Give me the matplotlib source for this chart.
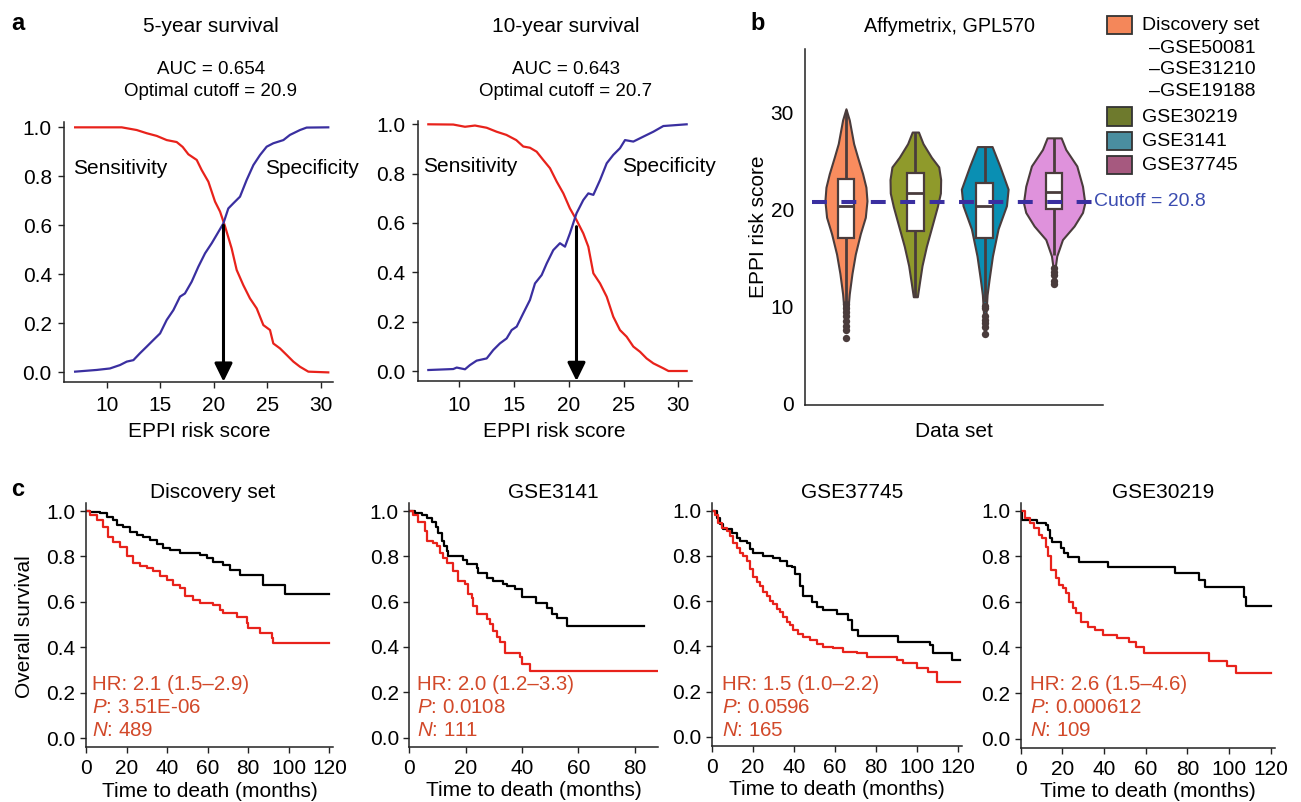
import matplotlib
matplotlib.use("Agg")
import matplotlib.pyplot as plt
from matplotlib.patches import Rectangle

plt.rcParams['font.family'] = ['Liberation Sans', 'DejaVu Sans']
plt.rcParams['mathtext.fontset'] = 'custom'
plt.rcParams['mathtext.rm'] = 'Liberation Sans'
plt.rcParams['mathtext.it'] = 'Liberation Sans:italic'

# ----------------------------------------------- DATA -----------------------------------------------------------------
# panel a: sensitivity / specificity vs EPPI risk score
a1_sens_x = [7.05, 11.4, 12.8, 13.73, 14.67, 15.6, 16.53, 17.09, 17.62, 18.4, 18.86, 19.49, 20.11, 20.58, 21.05,
             21.66, 22.13, 22.75, 23.37, 24.0, 24.62, 25.24, 25.55, 26.17, 26.8, 27.42, 28.04, 28.82, 30.68]
a1_sens_y = [1.0, 1.0, 0.989, 0.976, 0.965, 0.948, 0.94, 0.92, 0.89, 0.867, 0.826, 0.778, 0.697, 0.656, 0.595,
             0.506, 0.418, 0.356, 0.302, 0.261, 0.193, 0.173, 0.118, 0.098, 0.071, 0.044, 0.023, 0.003, 0.0]
a1_spec_x = [7.05, 9.07, 10.3, 11.24, 11.87, 12.49, 13.1, 13.73, 14.35, 14.98, 15.6, 16.22, 16.84, 17.3, 17.93,
             18.55, 19.18, 19.8, 20.26, 20.89, 21.35, 21.82, 22.44, 23.06, 23.69, 24.31, 24.93, 25.55, 26.49,
             27.1, 28.04, 28.66, 30.68]
a1_spec_y = [0.003, 0.01, 0.016, 0.03, 0.044, 0.05, 0.078, 0.105, 0.132, 0.159, 0.214, 0.254, 0.309, 0.322, 0.37,
             0.431, 0.486, 0.527, 0.561, 0.608, 0.669, 0.69, 0.717, 0.785, 0.846, 0.887, 0.921, 0.935, 0.948,
             0.969, 0.989, 0.999, 1.0]
a2_sens_x = [7.17, 9.45, 10.52, 11.43, 12.5, 13.4, 14.3, 15.2, 15.84, 16.45, 17.06, 17.67, 18.28, 18.89, 19.5,
             20.1, 20.7, 21.32, 21.78, 22.24, 22.85, 23.46, 24.06, 24.67, 25.28, 25.89, 26.5, 27.1, 27.72, 28.63,
             29.1, 30.76]
a2_sens_y = [1.0, 0.999, 0.99, 0.995, 0.986, 0.97, 0.957, 0.936, 0.91, 0.905, 0.889, 0.855, 0.822, 0.768, 0.72,
             0.659, 0.612, 0.558, 0.504, 0.396, 0.355, 0.301, 0.22, 0.166, 0.139, 0.099, 0.078, 0.051, 0.031,
             0.011, 0.0, 0.0]
a2_spec_x = [7.17, 9.45, 9.76, 10.52, 10.97, 11.58, 12.5, 13.1, 13.71, 14.32, 14.78, 15.24, 15.84, 16.45, 16.91,
             17.52, 17.98, 18.58, 19.19, 19.65, 20.1, 20.7, 21.32, 21.78, 22.24, 22.85, 23.46, 24.06, 24.67,
             25.13, 25.89, 26.8, 27.72, 28.63, 30.76]
a2_spec_y = [0.004, 0.008, 0.014, 0.007, 0.024, 0.042, 0.051, 0.085, 0.112, 0.132, 0.166, 0.18, 0.234, 0.288,
             0.355, 0.389, 0.436, 0.49, 0.518, 0.504, 0.558, 0.639, 0.693, 0.72, 0.714, 0.774, 0.842, 0.876,
             0.903, 0.936, 0.93, 0.95, 0.97, 0.993, 1.0]
a_titles = ['5-year survival', '10-year survival']
a_auc = [0.654, 0.643]
a_cutoff = [20.9, 20.7]
a_arrow_top = [0.60, 0.585]

# panel b: violin profiles (score level, half width) and box statistics
vio_names = ['Discovery set', 'GSE30219', 'GSE3141', 'GSE37745']
vio_colors = ['#f98c5e', '#8f9a2b', '#0a8fb3', '#df92dc']
vio_y = [
    [30.4, 29.25, 26.8, 25.4, 23.7, 22.3, 20.9, 19.2, 17.5, 15.4, 13.4, 11.3, 9.3, 7.5],
    [28.0, 26.8, 25.4, 24.4, 23.1, 21.7, 20.3, 18.3, 16.2, 14.2, 12.4, 11.0],
    [26.5, 24.5, 22.1, 20.4, 18.0, 15.2, 12.8, 11.2, 9.4, 7.2],
    [27.4, 26.2, 24.5, 22.4, 20.7, 19.7, 18.3, 16.9, 15.2, 14.2, 12.5],
]
vio_hw = [
    [0.0, 0.048, 0.111, 0.168, 0.24, 0.288, 0.303, 0.279, 0.207, 0.135, 0.087, 0.048, 0.024, 0.0],
    [0.045, 0.111, 0.231, 0.337, 0.365, 0.361, 0.317, 0.24, 0.159, 0.096, 0.058, 0.029],
    [0.106, 0.216, 0.337, 0.313, 0.192, 0.111, 0.063, 0.034, 0.019, 0.005],
    [0.101, 0.168, 0.327, 0.409, 0.442, 0.409, 0.288, 0.12, 0.038, 0.019, 0.01],
]
box_q1 = [17.1, 17.8, 17.1, 20.1]
box_med = [20.4, 21.7, 20.4, 21.8]
box_q3 = [23.2, 23.8, 22.7, 23.8]
whisk_lo = [10.6, 11.0, 10.5, 15.3]
whisk_hi = [30.3, 28.0, 26.5, 27.4]
outliers = [
    [10.2, 9.8, 9.4, 9.0, 8.5, 8.0, 7.6, 6.7],
    [],
    [10.0, 9.8, 9.0, 8.6, 8.3, 7.9, 7.2],
    [14.0, 13.6, 13.2, 12.6, 12.3],
]
cutoff_b = 20.8
legend_colors = ['#f4875a', '#6e7a2d', '#4a8ea0', '#a6597f']
discovery_members = ['GSE50081', 'GSE31210', 'GSE19188']

# panel c: Kaplan-Meier curves (low risk = black, high risk = red)
km_titles = ['Discovery set', 'GSE3141', 'GSE37745', 'GSE30219']
km_low_t = [
    [0, 2, 6.9, 10.2, 13.5, 15.1, 18.4, 21.7, 25, 28.3, 31.6, 34.9, 38.1, 41.4, 46.4, 49.6, 56.2, 59.5, 62.8,
     67.7, 71, 75.9, 87.5, 98.1, 120],
    [0, 2, 4.4, 6.1, 7.9, 9.5, 10.3, 11.5, 12.3, 13.2, 13.8, 19.1, 20.3, 23.9, 24.5, 27.4, 29.8, 33.3, 34.5,
     37.5, 39.8, 45.1, 48.7, 50.5, 52.2, 55.8, 83.3],
    [0, 1.1, 2.4, 4.1, 5.7, 9.7, 12.2, 13.8, 17, 18.6, 20.3, 25.1, 30, 33.2, 36.5, 38.9, 40.5, 43, 44.6, 48.6,
     51.1, 54.3, 60.8, 66.5, 68.1, 71.4, 90.8, 106.2, 107.8, 116.8, 120.8],
    [0, 0.5, 7.8, 11.9, 13, 14, 15.2, 19.2, 20.9, 22.5, 28.2, 42.1, 73.9, 85.3, 88.5, 107.3, 108.1, 120.3],
]
km_low_s = [
    [1.0, 0.997, 0.99, 0.975, 0.96, 0.938, 0.931, 0.909, 0.894, 0.887, 0.872, 0.855, 0.836, 0.828, 0.817, 0.814,
     0.806, 0.792, 0.777, 0.762, 0.74, 0.718, 0.675, 0.635, 0.635],
    [1.0, 0.99, 0.982, 0.968, 0.953, 0.931, 0.902, 0.866, 0.844, 0.822, 0.803, 0.785, 0.764, 0.749, 0.727, 0.705,
     0.69, 0.676, 0.669, 0.654, 0.62, 0.596, 0.574, 0.545, 0.53, 0.493, 0.493],
    [1.0, 0.997, 0.968, 0.939, 0.917, 0.902, 0.88, 0.866, 0.858, 0.829, 0.815, 0.8, 0.793, 0.778, 0.756, 0.749,
     0.72, 0.669, 0.625, 0.596, 0.574, 0.56, 0.545, 0.515, 0.472, 0.445, 0.42, 0.406, 0.369, 0.34, 0.34],
    [1.0, 0.96, 0.946, 0.938, 0.916, 0.88, 0.865, 0.836, 0.814, 0.796, 0.777, 0.755, 0.726, 0.696, 0.664, 0.623,
     0.582, 0.582],
]
km_high_t = [
    [0, 2, 5.3, 8.5, 11, 13.5, 16.8, 20.1, 23.3, 26.6, 29.9, 33.2, 36.5, 39.8, 43.1, 46.4, 48.8, 52.9, 56.2,
     62.8, 66.1, 67.7, 74.3, 79.2, 80, 85.8, 91.6, 92.4, 120],
    [0, 1.4, 3.2, 5.6, 6.1, 8.5, 9.7, 10.9, 12.1, 13.2, 15.6, 17.4, 19.7, 20.9, 22.1, 22.7, 23.9, 27.4, 28.6,
     29.8, 31, 32.1, 33.9, 39.2, 39.8, 42.8, 88.3],
    [0, 1.6, 3.2, 4.9, 7.3, 8.9, 10.5, 12.2, 13.8, 15.4, 17, 18.6, 20.3, 21.9, 23.5, 25.1, 26.8, 28.4, 30, 31.6,
     33.2, 34.9, 36.5, 38.1, 39.7, 42.2, 44.6, 47.8, 51.1, 54.3, 59.2, 64.1, 70.5, 75.4, 90, 93.2, 99.7, 105.4,
     109.5, 120.8],
    [0, 1.3, 2.1, 4.6, 6.2, 8.6, 10.3, 11.9, 13, 14.3, 16.8, 18.4, 20.1, 21.7, 23.3, 24.9, 26.6, 29, 32.3, 35.5,
     39.6, 46.1, 51.8, 55.1, 59.2, 90.2, 99.1, 103.2, 120.3],
]
km_high_s = [
    [1.0, 0.982, 0.96, 0.931, 0.887, 0.865, 0.843, 0.8, 0.77, 0.756, 0.748, 0.734, 0.712, 0.698, 0.675, 0.661,
     0.624, 0.609, 0.594, 0.587, 0.565, 0.55, 0.535, 0.507, 0.484, 0.462, 0.44, 0.418, 0.418],
    [1.0, 0.982, 0.953, 0.91, 0.866, 0.858, 0.844, 0.815, 0.793, 0.771, 0.734, 0.69, 0.676, 0.632, 0.618, 0.582,
     0.545, 0.523, 0.501, 0.472, 0.445, 0.42, 0.372, 0.355, 0.326, 0.296, 0.296],
    [1.0, 0.982, 0.946, 0.924, 0.91, 0.888, 0.858, 0.836, 0.815, 0.8, 0.778, 0.742, 0.705, 0.683, 0.669, 0.639,
     0.625, 0.603, 0.588, 0.566, 0.552, 0.53, 0.508, 0.493, 0.471, 0.457, 0.442, 0.428, 0.413, 0.399, 0.391,
     0.377, 0.369, 0.355, 0.34, 0.326, 0.304, 0.289, 0.245, 0.245],
    [1.0, 0.997, 0.968, 0.946, 0.924, 0.894, 0.88, 0.843, 0.8, 0.74, 0.704, 0.674, 0.66, 0.638, 0.601, 0.572,
     0.55, 0.513, 0.491, 0.477, 0.455, 0.44, 0.425, 0.403, 0.374, 0.342, 0.318, 0.286, 0.286],
]
km_hr = ['2.1 (1.5\u20132.9)', '2.0 (1.2\u20133.3)', '1.5 (1.0\u20132.2)', '2.6 (1.5\u20134.6)']
km_p = ['3.51E-06', '0.0108', '0.0596', '0.000612']
km_n = [489, 111, 165, 109]
km_xmax = [122, 88.3, 122, 122]
km_xticks = [range(0, 121, 20), range(0, 81, 20), range(0, 121, 20), range(0, 121, 20)]

# ----------------------------------------------- LAYOUT ---------------------------------------------------------------
W, H = 1301, 802
RED = '#e8221b'
BLUE = '#3a2fa0'
ANNOT = '#d2492a'
EDGE = '#4a3c3c'
FS = 15

fig = plt.figure(figsize=(W / 100, H / 100), dpi=100)


def add_ax(l, t, r, b):
    return fig.add_axes([l / W, 1 - b / H, (r - l) / W, (b - t) / H])


def ftext(x, y, s, **kw):
    kw.setdefault('va', 'center')
    kw.setdefault('ha', 'center')
    kw.setdefault('fontsize', FS)
    return fig.text(x / W, 1 - y / H, s, **kw)


def style(ax, xpad=3, ypad=3):
    for side in ['top', 'right']:
        ax.spines[side].set_visible(False)
    for side in ['left', 'bottom']:
        ax.spines[side].set_linewidth(1.1)
        ax.spines[side].set_color('#222222')
    ax.tick_params(direction='out', length=4, width=1, labelsize=FS, color='#222222')
    ax.tick_params(axis='x', pad=xpad)
    ax.tick_params(axis='y', pad=ypad)


# ----------------------------------------------- PANEL A --------------------------------------------------------------
a_boxes = [(64.3, 121.7, 333.3, 381.7), (417.7, 120.7, 691.7, 381.0)]
a_xlims = [(6.04, 31.15), (6.2, 31.22)]
a_ylims = [(-0.038, 1.023), (-0.0405, 1.0146)]
a_data = [(a1_sens_x, a1_sens_y, a1_spec_x, a1_spec_y), (a2_sens_x, a2_sens_y, a2_spec_x, a2_spec_y)]
a_title_x = [211, 566]
a_label_x = [(6.83, 24.77), (6.71, 24.89)]

for i in range(2):
    ax = add_ax(*a_boxes[i])
    style(ax, xpad=6.5, ypad=5)
    sx, sy, px, py = a_data[i]
    ax.plot(sx, sy, color=RED, lw=1.6)
    ax.plot(px, py, color=BLUE, lw=1.6)
    ax.set_xlim(*a_xlims[i])
    ax.set_ylim(*a_ylims[i])
    ax.set_xticks([10, 15, 20, 25, 30])
    ax.set_yticks([0.0, 0.2, 0.4, 0.6, 0.8, 1.0])
    ax.set_yticklabels(['%.1f' % v for v in [0.0, 0.2, 0.4, 0.6, 0.8, 1.0]])
    ax.set_xlabel('EPPI risk score', fontsize=FS, labelpad=5)
    ax.text(a_label_x[i][0], 0.83, 'Sensitivity', fontsize=FS, va='center', ha='left')
    ax.text(a_label_x[i][1], 0.83, 'Specificity', fontsize=FS, va='center', ha='left', clip_on=False)
    ax.annotate('', xy=(a_cutoff[i], a_ylims[i][0]), xytext=(a_cutoff[i], a_arrow_top[i]),
                arrowprops=dict(arrowstyle='-|>,head_length=0.55,head_width=0.27', mutation_scale=20,
                                lw=2.2, color='black', shrinkA=0, shrinkB=0), annotation_clip=False)
    ftext(a_title_x[i], 26, a_titles[i])
    ftext(a_title_x[i], 69, 'AUC = %.3f' % a_auc[i], fontsize=13.5)
    ftext(a_title_x[i], 91, 'Optimal cutoff = %.1f' % a_cutoff[i], fontsize=13.5)

# ----------------------------------------------- PANEL B --------------------------------------------------------------
ax = add_ax(805, 49.3, 1102.7, 405)
style(ax)
ax.tick_params(axis='y', length=0, pad=8)
ax.tick_params(axis='x', length=0)
for i, name in enumerate(vio_names):
    y = vio_y[i]
    hw = vio_hw[i]
    ax.fill_betweenx(y, [i - w for w in hw], [i + w for w in hw], facecolor=vio_colors[i],
                     edgecolor=EDGE, lw=1.5, zorder=2)
    ax.vlines(i, box_q3[i], whisk_hi[i], color=EDGE, lw=2, zorder=3)
    ax.vlines(i, whisk_lo[i], box_q1[i], color=EDGE, lw=2, zorder=3)
    ax.add_patch(Rectangle((i - 0.12, box_q1[i]), 0.24, box_q3[i] - box_q1[i], facecolor='white',
                           edgecolor=EDGE, lw=1.6, zorder=4))
    ax.hlines(box_med[i], i - 0.12, i + 0.12, color=EDGE, lw=2, zorder=5)
    if outliers[i]:
        ax.scatter([i] * len(outliers[i]), outliers[i], s=28, color=EDGE, zorder=5, lw=0)
ax.plot([-0.493, 3.55], [cutoff_b, cutoff_b], color=BLUE, lw=2.9, linestyle=(0, (3.7, 3.6)), zorder=6,
        clip_on=False)
ax.text(3.58, cutoff_b, 'Cutoff = %.1f' % cutoff_b, color='#3b4cb0', fontsize=14, va='center', ha='left',
        clip_on=False)
ax.set_xlim(-0.59, 3.70)
ax.set_ylim(-0.175, 36.54)
ax.set_xticks([])
ax.set_yticks([0, 10, 20, 30])
ax.set_xlabel('Data set', fontsize=FS, labelpad=12)
ax.set_ylabel('EPPI risk score', fontsize=FS, labelpad=2)
ftext(949, 26, 'Affymetrix, GPL570', fontsize=14.2)

# legend, drawn by hand so the discovery entry can list its member sets
leg_rows = [25, 116.5, 141, 165]
leg_labels = [vio_names[0]] + vio_names[1:]
for k in range(4):
    fig.add_artist(Rectangle((1106.7 / W, 1 - (leg_rows[k] + 9) / H), 25 / W, 18 / H,
                             facecolor=legend_colors[k], edgecolor='#333333', lw=1.3,
                             transform=fig.transFigure))
    ftext(1141.7, leg_rows[k] + 1, leg_labels[k], ha='left', fontsize=14)
for k, m in enumerate(discovery_members):
    ftext(1149, 48.3 + k * 21.7, '\u2013' + m, ha='left', fontsize=14)

# ----------------------------------------------- PANEL C --------------------------------------------------------------
c_boxes = [(86, 503.3, 333.4, 747.3), (409.3, 503.3, 658.3, 746.7), (711.7, 503, 962.4, 746),
           (1020.7, 503, 1275, 747.7)]
c_title_x = [213, 553, 851.7, 1163.3]
c_annot_x = [91.7, 416.7, 721.7, 1030]

for i in range(4):
    ax = add_ax(*c_boxes[i])
    style(ax, xpad=4.5, ypad=3.5)
    ax.plot(km_low_t[i], km_low_s[i], drawstyle='steps-post', color='black', lw=1.6)
    ax.plot(km_high_t[i], km_high_s[i], drawstyle='steps-post', color=RED, lw=1.6)
    ax.set_xlim(0, km_xmax[i])
    ax.set_ylim(-0.04, 1.034)
    ax.set_xticks(list(km_xticks[i]))
    ax.set_yticks([0.0, 0.2, 0.4, 0.6, 0.8, 1.0])
    ax.set_yticklabels(['%.1f' % v for v in [0.0, 0.2, 0.4, 0.6, 0.8, 1.0]])
    ax.set_xlabel('Time to death (months)', fontsize=FS, labelpad=2.5)
    ftext(c_title_x[i], 492.5, km_titles[i])
    ftext(c_annot_x[i], 685, 'HR: ' + km_hr[i], ha='left', color=ANNOT, fontsize=14.8)
    ftext(c_annot_x[i], 707.5, r'$\it{P}$: ' + km_p[i], ha='left', color=ANNOT, fontsize=14.8)
    ftext(c_annot_x[i], 730, r'$\it{N}$: ' + str(km_n[i]), ha='left', color=ANNOT, fontsize=14.8)

ftext(25, 627, 'Overall survival', rotation=90)

# panel letters
ftext(18, 24, 'a', fontsize=17, fontweight='bold')
ftext(758, 24, 'b', fontsize=17, fontweight='bold')
ftext(18, 490, 'c', fontsize=17, fontweight='bold')

fig.savefig('out.png', dpi=100)
